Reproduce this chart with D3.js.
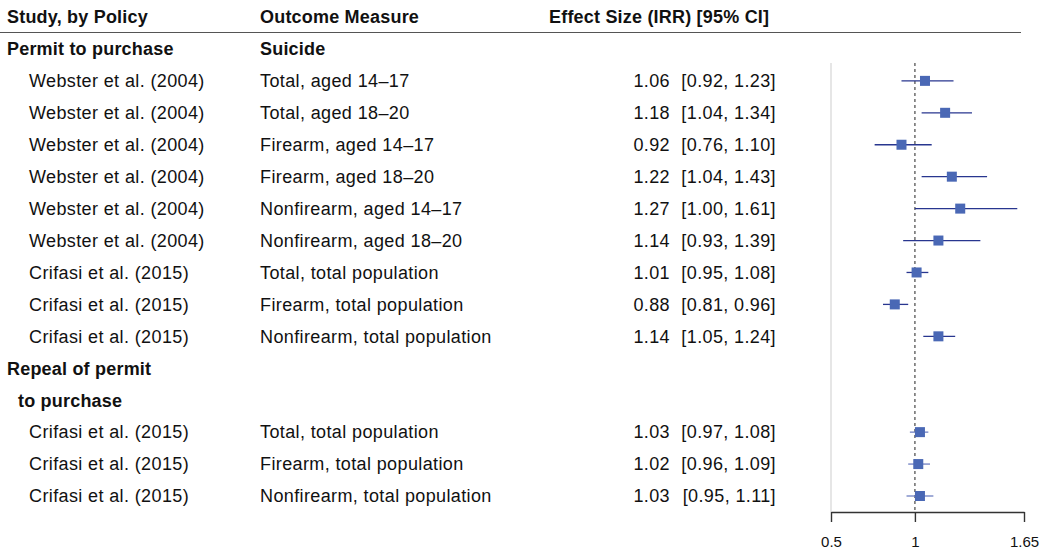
<!DOCTYPE html>
<html>
<head>
<meta charset="utf-8">
<script src="https://cdn.jsdelivr.net/npm/d3@7"></script>
<style>
  html, body { margin: 0; padding: 0; background: #fff; }
  svg { display: block; }
  text { font-family: "Liberation Sans", Arial, Helvetica, sans-serif; fill: #111; }
  .reg { font-size: 18px; letter-spacing: 0.38px; }
  .bold { font-size: 18px; font-weight: bold; letter-spacing: 0.2px; }
</style>
</head>
<body>
<svg id="chart" width="1047" height="550"></svg>
<script>
// Forest plot: permit-to-purchase laws and suicide (incidence rate ratios)
const studies = [
  "Webster et al. (2004)", "Webster et al. (2004)", "Webster et al. (2004)",
  "Webster et al. (2004)", "Webster et al. (2004)", "Webster et al. (2004)",
  "Crifasi et al. (2015)", "Crifasi et al. (2015)", "Crifasi et al. (2015)",
  "Crifasi et al. (2015)", "Crifasi et al. (2015)", "Crifasi et al. (2015)"
];
const outcomes = [
  "Total, aged 14\u201317", "Total, aged 18\u201320", "Firearm, aged 14\u201317",
  "Firearm, aged 18\u201320", "Nonfirearm, aged 14\u201317", "Nonfirearm, aged 18\u201320",
  "Total, total population", "Firearm, total population", "Nonfirearm, total population",
  "Total, total population", "Firearm, total population", "Nonfirearm, total population"
];
const studyGroup = [0, 0, 0, 0, 0, 0, 0, 0, 0, 1, 1, 1];
const estimates = [1.06, 1.18, 0.92, 1.22, 1.27, 1.14, 1.01, 0.88, 1.14, 1.03, 1.02, 1.03];
const lower     = [0.92, 1.04, 0.76, 1.04, 1.00, 0.93, 0.95, 0.81, 1.05, 0.97, 0.96, 0.95];
const upper     = [1.23, 1.34, 1.10, 1.43, 1.61, 1.39, 1.08, 0.96, 1.24, 1.08, 1.09, 1.11];
const xTicks = [0.5, 1, 1.65];
const headers = ["Study, by Policy", "Outcome Measure", "Effect Size (IRR) [95% CI]"];
const outcomeGroupLabel = "Suicide";

const svg = d3.select("#chart");
const fmt = d3.format(".2f");

// Row layout: header, group 1 label, 9 studies, 2-line group 2 label, 3 studies
const rowLines = [];
rowLines.push({ kind: "header" });
rowLines.push({ kind: "group", text: "Permit to purchase", indent: 0, outcome: outcomeGroupLabel });
studies.forEach((s, i) => {
  if (i === 9) {
    rowLines.push({ kind: "group", text: "Repeal of permit", indent: 0 });
    rowLines.push({ kind: "group", text: "to purchase", indent: 1 });
  }
  rowLines.push({ kind: "study", idx: i });
});

const y = d3.scalePoint().domain(d3.range(rowLines.length)).range([17, 496]);
const x = d3.scaleLinear().domain([0.5, 1.65]).range([831, 1024]);

const colStudy = 7, colStudyIndent = 29, colOutcome = 260;
const colEst = 670, colCI = 776;

// Header row and rule
svg.append("line")
  .attr("x1", 0).attr("x2", 1021).attr("y1", 32.5).attr("y2", 32.5)
  .attr("stroke", "#555").attr("stroke-width", 1.2);

const hdrX = [colStudy, colOutcome, 549];
headers.forEach((h, i) => {
  svg.append("text").attr("class", "bold").attr("x", hdrX[i]).attr("y", y(0)).attr("dy", "0.35em").text(h);
});

// Group and study text rows
rowLines.forEach((r, k) => {
  const yy = y(k);
  if (r.kind === "group") {
    svg.append("text").attr("class", "bold").attr("x", colStudy + (r.indent ? 11 : 0))
      .attr("y", yy).attr("dy", "0.35em").text(r.text);
    if (r.outcome) {
      svg.append("text").attr("class", "bold").attr("x", colOutcome)
        .attr("y", yy).attr("dy", "0.35em").text(r.outcome);
    }
  } else if (r.kind === "study") {
    const i = r.idx;
    svg.append("text").attr("class", "reg").attr("x", colStudyIndent).attr("y", yy).attr("dy", "0.35em")
      .text(studies[i]);
    svg.append("text").attr("class", "reg").attr("x", colOutcome).attr("y", yy).attr("dy", "0.35em")
      .text(outcomes[i]);
    svg.append("text").attr("class", "reg").attr("x", colEst).attr("y", yy).attr("dy", "0.35em")
      .attr("text-anchor", "end").text(fmt(estimates[i]));
    svg.append("text").attr("class", "reg").attr("x", colCI).attr("y", yy).attr("dy", "0.35em")
      .attr("text-anchor", "end")
      .text(`[${fmt(lower[i])}, ${fmt(upper[i])}]`);
  }
});

// Plot panel
const plotTop = 63, axisY = 512;
svg.append("line")
  .attr("x1", x(0.5)).attr("x2", x(0.5)).attr("y1", plotTop).attr("y2", axisY)
  .attr("stroke", "#e0e0e0").attr("stroke-width", 1.6);

svg.append("line")
  .attr("x1", x(1)).attr("x2", x(1)).attr("y1", plotTop).attr("y2", axisY)
  .attr("stroke", "#555").attr("stroke-width", 1.3).attr("stroke-dasharray", "3,3");

const axis = d3.axisBottom(x).tickValues(xTicks).tickSize(10).tickSizeOuter(0)
  .tickPadding(14).tickFormat(d => String(d));
const gAxis = svg.append("g").attr("transform", `translate(0,${axisY})`).call(axis);
gAxis.select(".domain").attr("stroke", "#333").attr("stroke-width", 1.4);
gAxis.selectAll(".tick line").attr("stroke", "#333").attr("stroke-width", 1.4);
gAxis.selectAll(".tick text")
  .attr("font-family", "\"Liberation Sans\", Arial, sans-serif")
  .attr("font-size", 15).attr("fill", "#111");

// Confidence intervals and point estimates
const studyRows = [];
rowLines.forEach((r, k) => { if (r.kind === "study") studyRows.push({ i: r.idx, k }); });

svg.append("g").selectAll("line").data(studyRows).join("line")
  .attr("x1", d => x(lower[d.i])).attr("x2", d => x(upper[d.i]))
  .attr("y1", d => y(d.k)).attr("y2", d => y(d.k))
  .attr("stroke", d => studyGroup[d.i] === 0 ? "#28368f" : "#6f7fc2")
  .attr("stroke-width", 1.3);

const sq = 10;
svg.append("g").selectAll("rect").data(studyRows).join("rect")
  .attr("x", d => x(estimates[d.i]) - sq / 2).attr("y", d => y(d.k) - sq / 2)
  .attr("width", sq).attr("height", sq)
  .attr("fill", "#4a68b5");
</script>
</body>
</html>
